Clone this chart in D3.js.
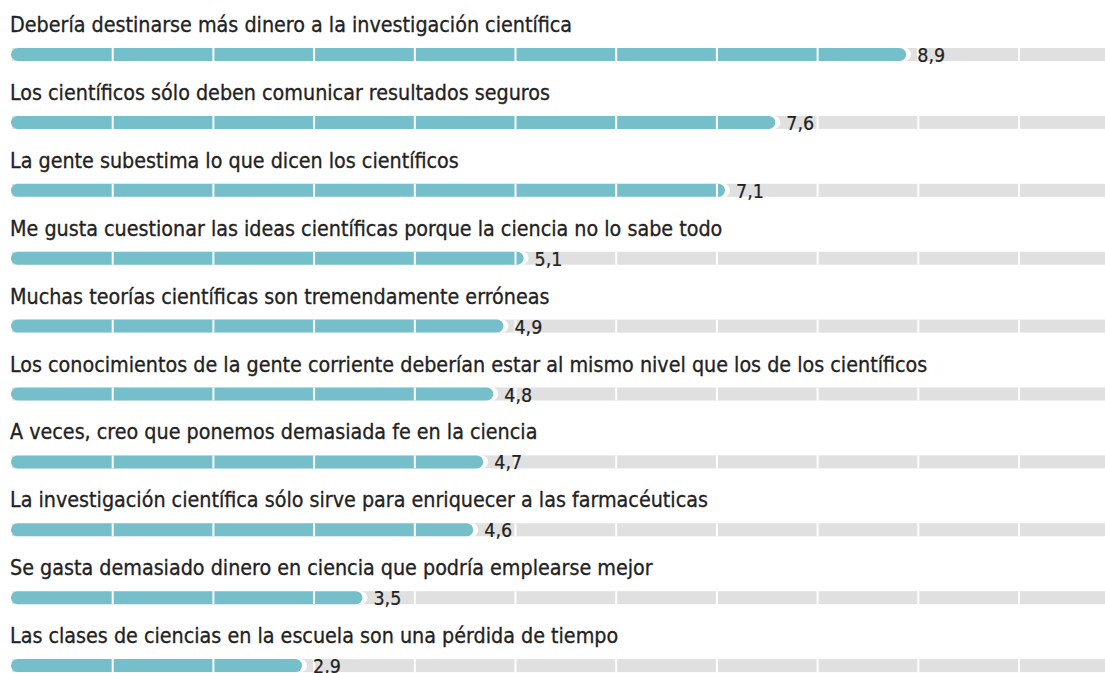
<!DOCTYPE html>
<html>
<head>
<meta charset="utf-8">
<script src="https://cdn.jsdelivr.net/npm/d3@7"></script>
<style>
  body { margin: 0; background: #fff; }
  svg { display: block; }
  text { font-family: "DejaVu Sans Condensed", "DejaVu Sans", sans-serif; fill: #222; }
</style>
</head>
<body>
<div id="chart"></div>
<script>
const statements = [
    "Debería destinarse más dinero a la investigación científica",
    "Los científicos sólo deben comunicar resultados seguros",
    "La gente subestima lo que dicen los científicos",
    "Me gusta cuestionar las ideas científicas porque la ciencia no lo sabe todo",
    "Muchas teorías científicas son tremendamente erróneas",
    "Los conocimientos de la gente corriente deberían estar al mismo nivel que los de los científicos",
    "A veces, creo que ponemos demasiada fe en la ciencia",
    "La investigación científica sólo sirve para enriquecer a las farmacéuticas",
    "Se gasta demasiado dinero en ciencia que podría emplearse mejor",
    "Las clases de ciencias en la escuela son una pérdida de tiempo"
];
const scores = [8.9, 7.6, 7.1, 5.1, 4.9, 4.8, 4.7, 4.6, 3.5, 2.9];
const gridSteps = [1, 2, 3, 4, 5, 6, 7, 8, 9, 10];

const svgWidth = 1105;
const svgHeight = 673;
const barH = 13;

const data = statements.map((s, i) => ({ label: s, value: scores[i] }));

const svg = d3.select("#chart").append("svg")
    .attr("width", svgWidth)
    .attr("height", svgHeight);

const x = d3.scaleLinear().domain([0, 10]).range([12, 1019]);
const y = d3.scalePoint().domain(statements).range([48, 48 + 9 * 67.9]);

const fmt = v => d3.format(".1f")(v).replace(".", ",");

const rows = svg.selectAll(".row")
    .data(data)
    .enter()
    .append("g")
    .attr("class", "row")
    .attr("transform", d => `translate(0, ${y(d.label)})`);

// gray track
rows.append("rect")
    .attr("x", x(0))
    .attr("y", 0)
    .attr("width", svgWidth - x(0))
    .attr("height", barH)
    .attr("fill", "#e0e0e0");

// white halo behind bar
rows.append("rect")
    .attr("x", x(0) - 1)
    .attr("y", 0)
    .attr("width", d => x(d.value) - x(0) + 4)
    .attr("height", barH)
    .attr("rx", 6.5)
    .attr("fill", "#fff");

// value bar
rows.append("rect")
    .attr("x", x(0) - 1)
    .attr("y", 0)
    .attr("width", d => x(d.value) - x(0) - 1)
    .attr("height", barH)
    .attr("rx", 6.5)
    .attr("fill", "#74bfc9");

// unit separators
rows.selectAll(".sep")
    .data(gridSteps)
    .enter()
    .append("rect")
    .attr("class", "sep")
    .attr("x", d => x(d) - 1)
    .attr("y", 0)
    .attr("width", 2)
    .attr("height", barH)
    .attr("fill", "#fff");

rows.append("text")
    .attr("x", 10)
    .attr("y", -16)
    .attr("font-size", 21.3)
    .attr("stroke", "#222")
    .attr("stroke-width", 0.3)
    .text(d => d.label);

rows.append("text")
    .attr("x", d => x(d.value) + 9)
    .attr("y", 14)
    .attr("font-size", 19.5)
    .attr("stroke", "#222")
    .attr("stroke-width", 0.2)
    .text(d => fmt(d.value));
</script>
</body>
</html>
